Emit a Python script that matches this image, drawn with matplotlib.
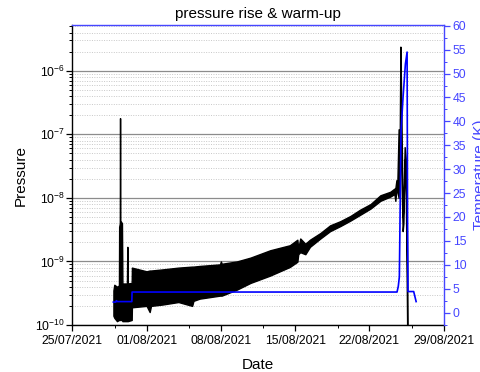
import matplotlib
matplotlib.use("Agg")
import matplotlib.pyplot as plt
import matplotlib.dates as mdates
import matplotlib.ticker as mticker
import pandas as pd

plt.rcParams['font.family'] = ['Liberation Sans', 'DejaVu Sans']
plt.rcParams['mathtext.fontset'] = 'custom'
plt.rcParams['mathtext.rm'] = 'Liberation Sans'
plt.rcParams['mathtext.it'] = 'Liberation Sans:italic'
plt.rcParams['mathtext.bf'] = 'Liberation Sans:bold'

# ---------------- data ----------------
p_times = [
    "2021-07-28 21:00", "2021-07-28 23:00", "2021-07-29 05:00", "2021-07-29 09:30",
    "2021-07-29 10:00", "2021-07-29 11:30", "2021-07-29 12:00", "2021-07-29 12:30",
    "2021-07-29 16:20", "2021-07-29 17:20", "2021-07-30 03:30", "2021-07-30 04:30",
    "2021-07-30 05:30", "2021-07-30 14:20", "2021-07-30 14:50", "2021-08-01 00:00",
    "2021-08-01 07:00", "2021-08-01 10:00",
    "2021-08-02 12:00", "2021-08-04 00:00", "2021-08-05 07:00", "2021-08-05 10:00",
    "2021-08-06 00:00", "2021-08-07 22:00", "2021-08-08 00:00", "2021-08-08 02:00",
    "2021-08-09 12:00", "2021-08-10 19:00", "2021-08-12 15:30", "2021-08-14 12:00",
    "2021-08-15 05:00", "2021-08-15 07:00", "2021-08-15 11:30", "2021-08-15 23:00",
    "2021-08-16 09:30", "2021-08-17 09:00", "2021-08-18 07:00", "2021-08-19 06:00",
    "2021-08-20 05:00", "2021-08-21 02:30", "2021-08-22 02:30", "2021-08-23 00:45",
    "2021-08-23 23:15", "2021-08-24 08:30", "2021-08-24 10:30", "2021-08-24 13:00",
    "2021-08-24 15:00", "2021-08-24 18:00", "2021-08-24 20:40", "2021-08-24 22:00",
    "2021-08-25 00:00", "2021-08-25 03:10", "2021-08-25 04:50", "2021-08-25 07:40",
    "2021-08-25 10:20", "2021-08-25 12:40", "2021-08-25 13:40",
]
p_low = [
    1.4e-10, 1.3e-10, 1.15e-10, 1.2e-10,
    1.2e-10, 1.2e-10, 1.2e-10, 1.2e-10,
    1.2e-10, 1.15e-10, 1.15e-10, 1.15e-10,
    1.15e-10, 1.2e-10, 1.9e-10, 2.0e-10,
    1.6e-10, 2.0e-10,
    2.1e-10, 2.3e-10, 2.0e-10, 2.4e-10,
    2.6e-10, 2.9e-10, 2.9e-10, 2.9e-10,
    3.6e-10, 4.6e-10, 6.0e-10, 8.2e-10,
    9.9e-10, 1.3e-9, 1.4e-9, 1.3e-9,
    1.7e-9, 2.3e-9, 3.0e-9, 3.6e-9,
    4.4e-9, 5.4e-9, 6.8e-9, 9.0e-9,
    1.05e-8, 1.15e-8, 9.0e-9, 1.3e-8,
    1.3e-8, 1.0e-8, 8.0e-8, 1.0e-7,
    3.0e-8, 3.0e-9, 4.0e-9, 4.0e-8,
    1.0e-8, 2.8e-10, 5.0e-11,
]
p_high = [
    3.5e-10, 4.3e-10, 4.0e-10, 4.2e-10,
    3.5e-9, 4.0e-9, 1.8e-7, 4.4e-9,
    4.0e-9, 4.5e-10, 4.5e-10, 1.7e-9,
    4.5e-10, 4.6e-10, 8.0e-10, 7.0e-10,
    7.2e-10, 7.2e-10,
    7.5e-10, 8.0e-10, 8.3e-10, 8.3e-10,
    8.5e-10, 9.0e-10, 1.0e-9, 9.2e-10,
    1.0e-9, 1.15e-9, 1.5e-9, 1.8e-9,
    2.2e-9, 1.6e-9, 2.3e-9, 1.9e-9,
    2.2e-9, 2.8e-9, 3.7e-9, 4.3e-9,
    5.2e-9, 6.5e-9, 8.0e-9, 1.1e-8,
    1.25e-8, 1.4e-8, 1.4e-8, 1.9e-8,
    1.6e-8, 1.2e-7, 1.2e-7, 2.4e-6,
    3.0e-7, 5.0e-9, 8.0e-9, 6.3e-8,
    4.0e-8, 3.0e-9, 3.0e-10,
]

t_times = [
    "2021-07-28 20:50", "2021-07-29 02:24", "2021-07-29 03:36", "2021-07-29 06:00",
    "2021-07-30 14:40", "2021-07-30 15:10", "2021-08-24 14:24", "2021-08-24 17:15",
    "2021-08-24 19:40", "2021-08-24 23:30", "2021-08-25 04:00", "2021-08-25 09:20",
    "2021-08-25 13:10", "2021-08-25 14:10", "2021-08-25 15:10", "2021-08-26 04:05",
    "2021-08-26 09:36",
]
t_vals = [
    2.2, 2.2, 2.5, 2.3,
    2.3, 4.3, 4.3, 5.5,
    7.5, 38.0, 45.0, 52.0,
    54.5, 20.0, 4.4, 4.4,
    2.3,
]

x_major = ["2021-07-25", "2021-08-01", "2021-08-08", "2021-08-15", "2021-08-22", "2021-08-29"]
x_minor = ["2021-07-29", "2021-08-05", "2021-08-12", "2021-08-19", "2021-08-26"]
t_ticks = [0, 5, 10, 15, 20, 25, 30, 35, 40, 45, 50, 55, 60]

title = "pressure rise & warm-up"
# ----------------------------------------------------------------

pt = pd.to_datetime(p_times)
tt = pd.to_datetime(t_times)

fig = plt.figure(figsize=(4.81, 3.72), dpi=100)
ax1 = fig.add_axes([0.1503, 0.1263, 0.7722, 0.8057])
ax2 = ax1.twinx()

BLUE = '#0000ff'
AXBLUE = '#4646ff'

ax1.fill_between(pt, p_low, p_high, color='black', lw=1.0, edgecolor='black', zorder=3)
ax1.set_yscale('log')
ax1.set_ylim(1e-10, 5.2e-6)
ax1.set_xlim(pd.Timestamp(x_major[0]), pd.Timestamp(x_major[-1]))

ax1.yaxis.set_major_locator(mticker.LogLocator(base=10, numticks=10))
ax1.yaxis.set_minor_locator(mticker.LogLocator(base=10, subs=range(2, 10), numticks=20))
ax1.yaxis.set_minor_formatter(mticker.NullFormatter())
ax1.grid(True, which='major', axis='y', color='#8c8c8c', lw=0.9, ls='-')
ax1.grid(True, which='minor', axis='y', color='#c8c8c8', lw=0.7, ls=(0, (1, 1.5)))
ax1.set_axisbelow(True)

ax1.set_xticks(pd.to_datetime(x_major))
ax1.set_xticks(pd.to_datetime(x_minor), minor=True)
ax1.xaxis.set_major_formatter(mdates.DateFormatter('%d/%m/%Y'))
ax1.xaxis.set_minor_formatter(mticker.NullFormatter())

ax1.tick_params(axis='both', which='major', direction='out', length=4, width=0.9,
                labelsize=8.8, colors='black')
ax1.tick_params(axis='both', which='minor', direction='out', length=2.2, width=0.7)
ax1.tick_params(axis='y', pad=1.5)
ax1.tick_params(axis='x', pad=3)
ax1.spines['top'].set_visible(False)
ax1.spines['right'].set_visible(False)
for s in ('left', 'bottom'):
    ax1.spines[s].set_linewidth(1.0)

ax1.set_xlabel('Date', fontsize=11, labelpad=8)
ax1.set_ylabel('Pressure', fontsize=11, labelpad=5)
ax1.set_title(title, fontsize=11, pad=5.5)

ax2.plot(tt, t_vals, color=BLUE, lw=1.2, zorder=4)
ax2.set_ylim(-2.6, 60.1)
ax2.set_yticks(t_ticks)
ax2.yaxis.set_minor_locator(mticker.MultipleLocator(2.5))
ax2.tick_params(axis='y', which='major', direction='out', length=4, width=0.9,
                labelsize=8.8, colors=AXBLUE, labelcolor=AXBLUE, pad=2.5)
ax2.tick_params(axis='y', which='minor', direction='out', length=2.2, width=0.7, colors=AXBLUE)
ax2.spines['right'].set_color(AXBLUE)
ax2.spines['top'].set_color(AXBLUE)
ax2.spines['right'].set_linewidth(1.0)
ax2.spines['top'].set_linewidth(1.0)
ax2.spines['left'].set_visible(False)
ax2.spines['bottom'].set_visible(False)
ax2.set_ylabel('Temperature (K)', fontsize=11, color=AXBLUE, labelpad=5)

fig.savefig('out.png', dpi=100)
